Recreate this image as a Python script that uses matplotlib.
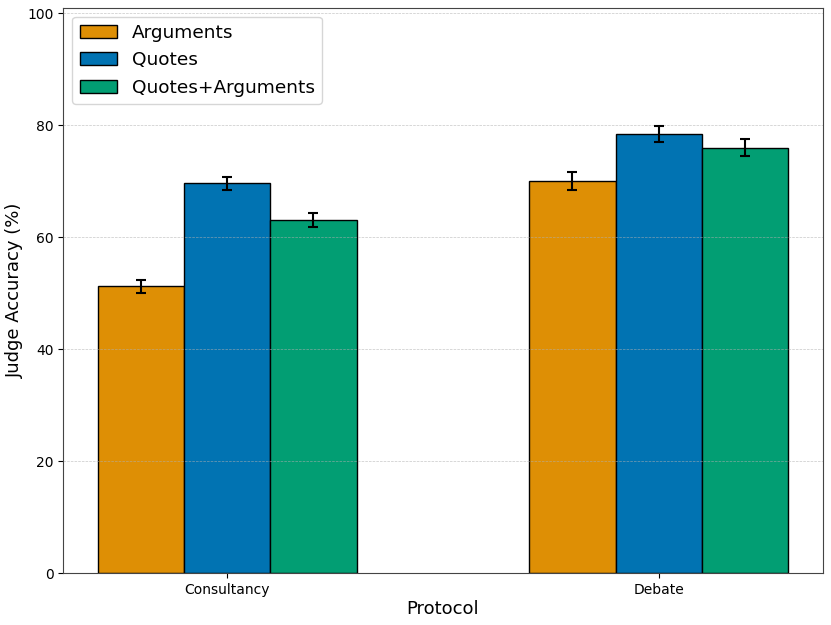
import numpy as np
import matplotlib.pyplot as plt

protocols = ["Consultancy", "Debate"]
series = ["Arguments", "Quotes", "Quotes+Arguments"]
accuracy = {
    "Arguments":        [51.2, 70.1],
    "Quotes":           [69.6, 78.4],
    "Quotes+Arguments": [63.1, 76.0],
}
errors = {
    "Arguments":        [1.2, 1.6],
    "Quotes":           [1.15, 1.5],
    "Quotes+Arguments": [1.25, 1.6],
}
colors = {
    "Arguments":        "#DE8F05",
    "Quotes":           "#0173B2",
    "Quotes+Arguments": "#029E73",
}

fig, ax = plt.subplots(figsize=(8.31, 6.25), dpi=100)
fig.subplots_adjust(left=0.076, right=0.990, top=0.988, bottom=0.083)

x = np.arange(len(protocols))
width = 0.2
for i, name in enumerate(series):
    ax.bar(x + (i - 1) * width, accuracy[name], width, yerr=errors[name],
           color=colors[name], edgecolor="black", linewidth=1.0, label=name,
           error_kw=dict(ecolor="black", elinewidth=1.5, capsize=3.5, capthick=1.5))

ax.set_xticks(x)
ax.set_xticklabels(protocols, fontsize=10)
ax.tick_params(axis="y", labelsize=10)
ax.set_ylim(0, 101)
ax.set_xlabel("Protocol", fontsize=13, labelpad=2)
ax.set_ylabel("Judge Accuracy (%)", fontsize=13, labelpad=2)
ax.grid(axis="y", linestyle="--", linewidth=0.5, color="#b0b0b0", alpha=0.7)
for s in ax.spines.values():
    s.set_linewidth(0.8)
    s.set_color("#444444")
ax.legend(loc="upper left", fontsize=13.3)

plt.savefig("out.png", dpi=100)
